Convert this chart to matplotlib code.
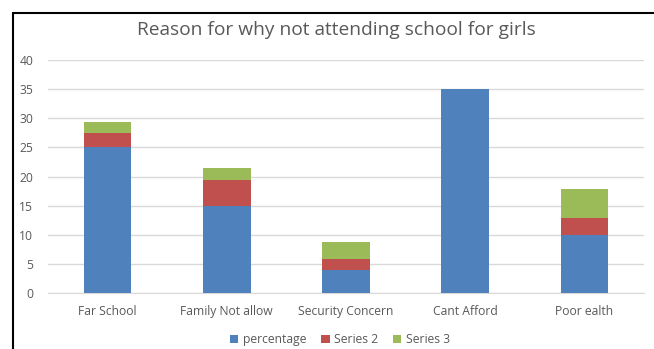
import matplotlib
matplotlib.use("Agg")
import matplotlib.pyplot as plt
import numpy as np
from matplotlib.patches import Rectangle

categories = ["Far School", "Family Not allow", "Security Concern", "Cant Afford", "Poor ealth"]
percentage = [25, 15, 4, 35, 10]
series2 = [2.4, 4.4, 1.8, 0, 2.8]
series3 = [2, 2, 3, 0, 5]

plt.rcParams['font.family'] = ['Open Sans', 'DejaVu Sans']

fig = plt.figure(figsize=(6.54, 3.49), dpi=100)
ax = fig.add_axes([0.0734, 0.1605, 0.9113, 0.6675])

x = np.arange(len(categories))
w = 0.40
p = np.array(percentage)
s2 = np.array(series2)
s3 = np.array(series3)
ax.bar(x, p, w, color="#4F81BD", label="percentage", zorder=3)
ax.bar(x, s2, w, bottom=p, color="#C0504D", label="Series 2", zorder=3)
ax.bar(x, s3, w, bottom=p + s2, color="#9BBB59", label="Series 3", zorder=3)

ax.set_xlim(-0.5, len(categories) - 0.5)
ax.set_ylim(0, 40)
ax.set_yticks(range(0, 41, 5))
ax.set_xticks(x)
ax.set_xticklabels(categories)
ax.grid(axis="y", color="#D9D9D9", linewidth=1, zorder=0)
for s in ["top", "right", "left"]:
    ax.spines[s].set_visible(False)
ax.spines["bottom"].set_color("#D9D9D9")
ax.tick_params(axis="both", length=0, labelsize=8.7, colors="#595959")
ax.tick_params(axis="x", pad=9)
ax.tick_params(axis="y", pad=10.5)

fig.text(0.514, 0.915, "Reason for why not attending school for girls",
         ha="center", va="center", fontsize=13.8, color="#595959")

fig.legend(loc="center", bbox_to_anchor=(0.52, 0.027), ncol=3, frameon=False,
           fontsize=8.7, handlelength=0.7, handleheight=0.7, handletextpad=0.4,
           columnspacing=1.2, labelcolor="#595959")

# chart border (cropped at right and bottom)
fig.patches.append(Rectangle((13 / 654, -0.1), 1.2, 1 - 13 / 349 + 0.1,
                             transform=fig.transFigure, fill=False,
                             edgecolor="black", linewidth=1.5))

fig.savefig("out.png", dpi=100)
